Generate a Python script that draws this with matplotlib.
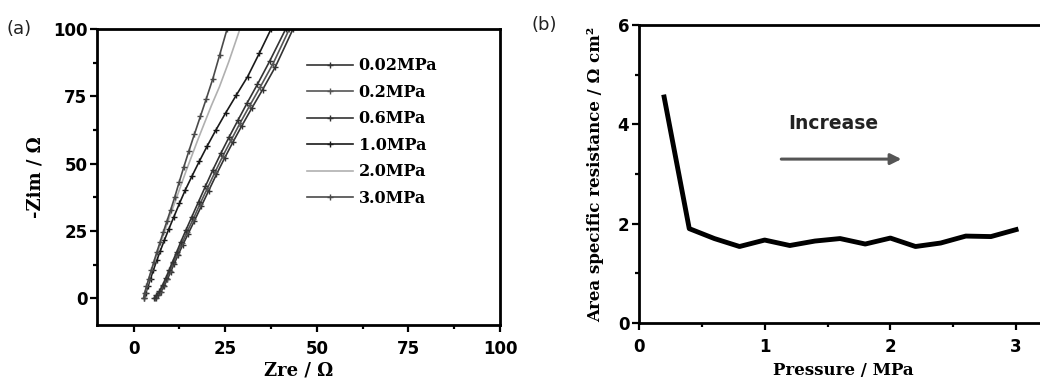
import matplotlib.pyplot as plt
from matplotlib.ticker import MultipleLocator

# (a) Nyquist curves, one per clamping pressure
zre_002 = [6.0, 6.6, 7.4, 8.3, 9.2, 10.1, 11.0, 12.1, 13.4, 14.9, 16.6, 18.5, 20.5, 22.6, 24.8, 27.1, 29.5, 32.2, 35.2, 38.7, 43.5]
zim_002 = [0, 1, 2.3, 4.5, 7, 9.8, 12.6, 16, 19.8, 24, 28.8, 34.3, 40, 46, 52, 58, 64, 70.5, 77.5, 86, 100]
zre_02 = [5.8, 6.4, 7.2, 8.1, 9.0, 9.9, 10.8, 11.9, 13.2, 14.6, 16.3, 18.1, 20.1, 22.2, 24.4, 26.7, 29.1, 31.7, 34.6, 38.0, 42.5]
zim_02 = [0, 1, 2.4, 4.7, 7.3, 10.1, 13, 16.5, 20.4, 24.7, 29.5, 35, 40.8, 46.8, 53, 59, 65.2, 71.6, 78.6, 87, 100]
zre_06 = [5.6, 6.2, 7.0, 7.9, 8.8, 9.7, 10.6, 11.7, 12.9, 14.3, 15.9, 17.7, 19.6, 21.6, 23.8, 26.1, 28.5, 31.0, 33.8, 37.1, 41.5]
zim_06 = [0, 1.1, 2.5, 4.9, 7.6, 10.5, 13.5, 17, 21, 25.4, 30.3, 35.8, 41.6, 47.6, 53.8, 60, 66.2, 72.6, 79.5, 88, 100]
zre_10 = [2.9, 3.3, 3.9, 4.6, 5.4, 6.3, 7.3, 8.4, 9.6, 11.0, 12.5, 14.1, 15.9, 17.9, 20.1, 22.5, 25.1, 28.0, 31.1, 34.3, 37.5]
zim_10 = [0, 2, 4.4, 7.3, 10.5, 14, 17.7, 21.6, 25.7, 30.3, 35.2, 40.2, 45.3, 50.8, 56.6, 62.6, 68.8, 75.4, 82.3, 91, 100]
zre_20 = [2.8, 3.1, 3.6, 4.2, 4.9, 5.7, 6.5, 7.4, 8.4, 9.4, 10.5, 11.7, 13.0, 14.4, 15.9, 17.5, 19.3, 21.2, 23.4, 26.0, 29.0]
zim_20 = [0, 2, 4.4, 7.2, 10.3, 13.5, 17, 20.8, 24.6, 28.7, 32.8, 37.3, 42.3, 47.6, 53, 58.8, 65, 71.5, 78.5, 88, 100]
zre_30 = [2.7, 3.0, 3.5, 4.1, 4.8, 5.5, 6.3, 7.2, 8.1, 9.1, 10.1, 11.2, 12.4, 13.7, 15.1, 16.6, 18.2, 19.8, 21.6, 23.5, 25.5]
zim_30 = [0, 2, 4.4, 7.2, 10.3, 13.5, 17, 20.8, 24.6, 28.7, 32.8, 37.5, 43, 48.8, 54.8, 61, 67.5, 74, 81.5, 90.5, 100]

# (b) area specific resistance vs pressure
pressure = [0.2, 0.4, 0.6, 0.8, 1.0, 1.2, 1.4, 1.6, 1.8, 2.0, 2.2, 2.4, 2.6, 2.8, 3.0]
asr = [4.55, 1.9, 1.7, 1.54, 1.67, 1.56, 1.65, 1.7, 1.59, 1.71, 1.54, 1.61, 1.75, 1.74, 1.88]

serif = 'DejaVu Serif'
sans = 'DejaVu Sans'

fig = plt.figure(figsize=(10.4, 3.87), dpi=100)

# ---- panel (a)
ax1 = fig.add_axes([0.0933, 0.160, 0.3875, 0.765])
series = [
    (zre_002, zim_002, '0.02MPa', '#333333', '+'),
    (zre_02, zim_02, '0.2MPa', '#555555', '+'),
    (zre_06, zim_06, '0.6MPa', '#333333', '+'),
    (zre_10, zim_10, '1.0MPa', '#1a1a1a', '+'),
    (zre_20, zim_20, '2.0MPa', '#b0b0b0', None),
    (zre_30, zim_30, '3.0MPa', '#4a4a4a', '+'),
]
for x, y, lab, c, m in series:
    ax1.plot(x, y, color=c, lw=1.2, marker=m, ms=4, mew=1.0, label=lab)

ax1.set_xlim(-10, 100)
ax1.set_ylim(-10, 100)
ax1.xaxis.set_major_locator(MultipleLocator(25))
ax1.xaxis.set_minor_locator(MultipleLocator(12.5))
ax1.yaxis.set_major_locator(MultipleLocator(25))
ax1.yaxis.set_minor_locator(MultipleLocator(12.5))
ax1.set_xlabel('Zre / Ω', family=serif, weight='bold', fontsize=13, labelpad=2)
ax1.set_ylabel('-Zim / Ω', family=serif, weight='bold', fontsize=13, labelpad=6)
ax1.legend(loc='upper left', bbox_to_anchor=(0.52, 0.905), frameon=False, numpoints=1,
           borderpad=0, borderaxespad=0, handlelength=2.9, handletextpad=0.35,
           labelspacing=0.6, prop={'family': serif, 'weight': 'bold', 'size': 11.5})
fig.text(0.006, 0.925, '(a)', family=sans, fontsize=13, va='center', ha='left', color='#222222')

# ---- panel (b)
ax2 = fig.add_axes([0.6144, 0.1654, 0.3928, 0.770])
ax2.plot(pressure, asr, color='black', lw=3.5, solid_joinstyle='round')
ax2.set_xlim(0, 3.25)
ax2.set_ylim(0, 6)
ax2.xaxis.set_major_locator(MultipleLocator(1))
ax2.xaxis.set_minor_locator(MultipleLocator(0.5))
ax2.yaxis.set_major_locator(MultipleLocator(2))
ax2.yaxis.set_minor_locator(MultipleLocator(1))
ax2.set_xlabel('Pressure / MPa', family=serif, weight='bold', fontsize=12, labelpad=4)
ax2.set_ylabel('Area specific resistance / Ω cm²', family=serif, weight='bold', fontsize=12, labelpad=10)
ax2.annotate('', xy=(2.11, 3.3), xytext=(1.11, 3.3),
             arrowprops=dict(arrowstyle='-|>', color='#555555', lw=2.2, mutation_scale=16))
ax2.text(1.55, 4.02, 'Increase', family=sans, weight='bold', fontsize=13.5, ha='center', va='center', color='#222222')
fig.text(0.511, 0.935, '(b)', family=sans, fontsize=13, va='center', ha='left', color='#222222')

for ax in (ax1, ax2):
    for s in ax.spines.values():
        s.set_linewidth(2.0)
    ax.tick_params(which='both', direction='out', top=False, right=False, width=1.6)
    ax.tick_params(which='major', length=5)
    ax.tick_params(which='minor', length=3)
    ax.tick_params(axis='x', which='major', pad=6)
    ax.tick_params(axis='y', which='major', pad=2)
    for t in ax.get_xticklabels() + ax.get_yticklabels():
        t.set_family(sans)
        t.set_weight('bold')
        t.set_fontsize(12)

fig.savefig('out.png', dpi=100)
